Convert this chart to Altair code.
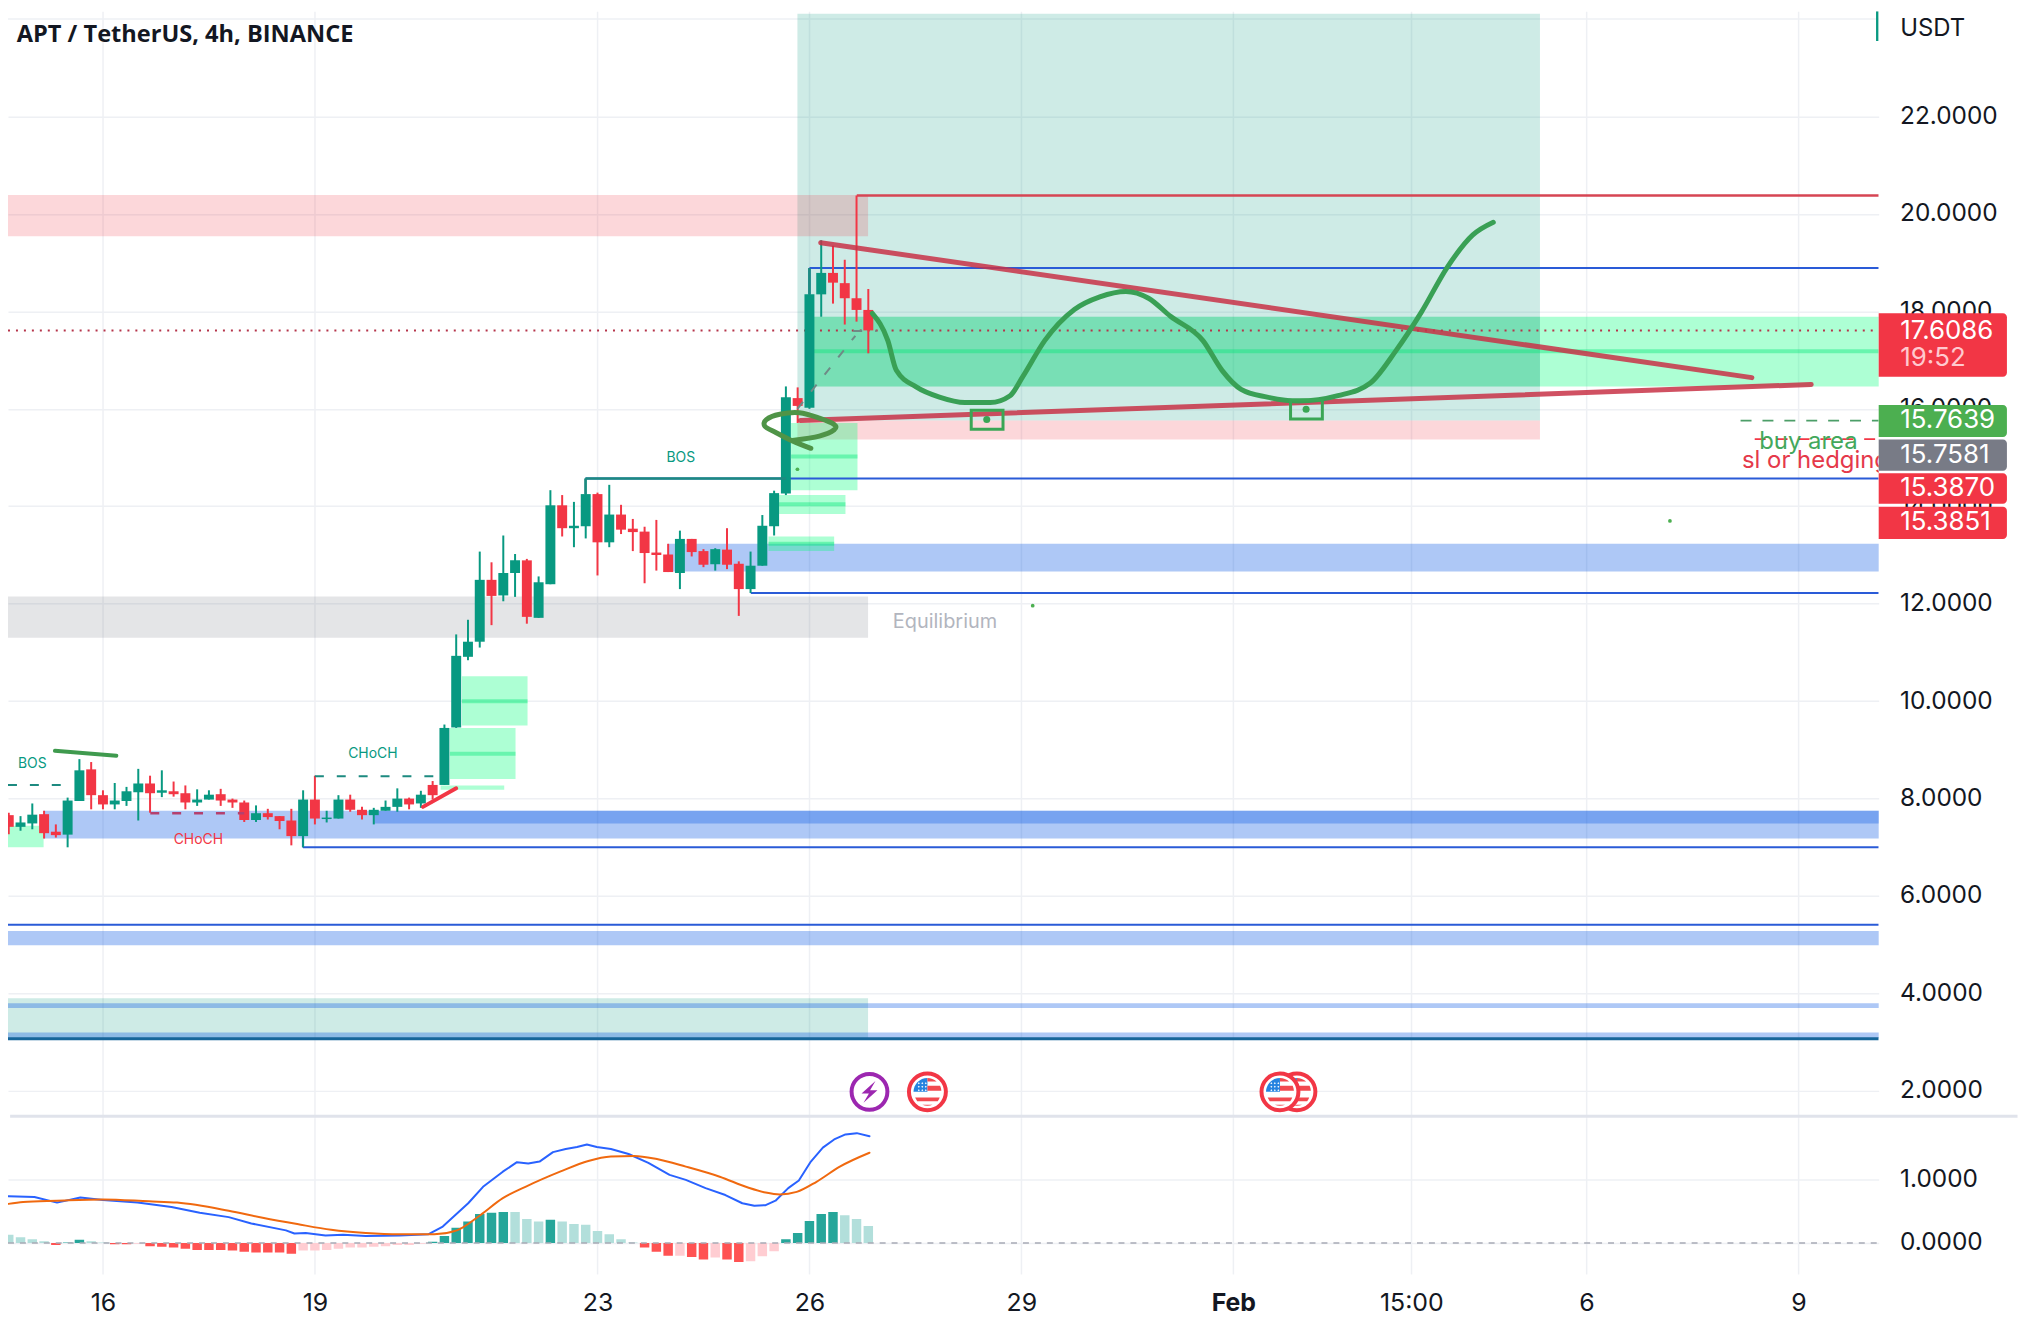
import altair as alt
import pandas as pd

# ---------- chart values ----------
candle_k = list(range(-8, 66))
candle_dir = (
    ["R","G","G","R","R","G","G","R"]
    + ["R","G","G","G","R","G","R","R","G","G","R","R","R","G","R","R","R","G"]
    + ["R","G","G","R","R","G","G","G","R","G","R","G","G"]
    + ["G","G","R","G","G","R","G","G","R","G","G","R","G","R","R","R","R","R","G","R","R","G","R","R","G","G","G"]
    + ["G","R","G","G","R","R","R","R"]
)
candle_high = [7.71,7.64,7.90,7.75,7.47,8.02,8.81,8.75,
    8.17,8.32,8.24,8.61,8.47,8.58,8.35,8.27,8.19,8.17,8.20,8.00,7.96,7.86,7.79,7.64,7.79,8.17,
    8.47,7.75,8.07,8.08,7.83,7.81,7.96,8.21,8.02,8.16,8.36,9.52,11.37,
    11.67,13.07,12.85,13.40,13.02,12.92,12.56,14.33,14.23,14.09,14.57,14.28,14.44,14.03,13.74,13.58,13.72,13.23,13.50,13.33,13.12,13.14,13.55,12.87,13.07,13.82,14.32,
    16.46,16.44,18.88,19.46,19.35,19.06,20.38,18.46]
candle_top = [7.66,7.51,7.67,7.68,7.32,7.96,8.58,8.60,
    8.07,7.96,8.15,8.31,8.31,8.17,8.15,8.11,7.98,8.08,8.09,7.98,7.92,7.70,7.70,7.64,7.55,7.98,
    7.98,7.61,7.98,7.98,7.77,7.77,7.83,8.00,8.00,8.08,8.28,9.45,10.93,
    11.22,12.49,12.49,12.63,12.89,12.89,12.44,14.02,14.02,13.60,14.25,14.25,13.83,13.83,13.54,13.48,13.05,13.01,13.33,13.33,13.08,13.12,13.11,12.82,12.78,13.60,14.27,
    16.24,16.22,18.35,18.79,18.79,18.58,18.27,18.03]
candle_bottom = [7.42,7.42,7.49,7.29,7.25,7.26,7.95,8.07,
    7.88,7.88,7.95,8.13,8.11,8.12,8.09,7.92,7.92,7.98,7.96,7.92,7.56,7.56,7.62,7.54,7.23,7.23,
    7.59,7.58,7.59,7.77,7.66,7.66,7.75,7.83,7.88,7.90,8.07,8.28,9.46,
    10.91,11.22,12.16,12.17,12.63,11.73,11.71,12.40,13.55,13.55,13.59,13.26,13.26,13.52,13.47,13.04,13.00,12.65,12.63,13.06,12.80,12.81,12.80,12.30,12.30,12.78,13.59,
    14.26,16.06,16.02,18.35,18.59,18.27,18.03,17.61]
candle_low = [7.27,7.34,7.37,7.18,7.20,7.00,7.95,7.78,
    7.78,7.78,7.85,7.55,7.71,8.03,8.04,7.78,7.85,7.98,7.85,7.81,7.52,7.52,7.57,7.37,7.04,7.00,
    7.47,7.51,7.59,7.73,7.57,7.47,7.75,7.73,7.78,7.81,7.98,8.28,9.45,
    10.84,11.10,11.56,12.05,12.14,11.59,11.71,12.40,13.38,13.16,13.34,12.58,13.16,13.43,13.08,12.42,12.68,12.65,12.30,12.97,12.75,12.68,12.71,11.75,12.22,12.78,13.40,
    14.23,15.71,16.00,17.89,18.16,17.73,17.79,17.14]

hist_k = list(range(-8, 66))
hist_value = [.13,.09,.06,.03,-.03,.01,.05,.03,
    .01,-.02,-.02,-.01,-.05,-.06,-.07,-.09,-.11,-.11,-.11,-.12,-.14,-.15,-.15,-.15,-.17,
    -.12,-.12,-.11,-.09,-.07,-.07,-.06,-.05,-.03,-.03,-.01,
    .02,.11,.24,.34,.46,.48,.49,.49,.38,.34,.37,.34,.30,.29,.19,.14,.06,.01,
    -.07,-.14,-.20,-.20,-.22,-.26,-.23,-.26,-.30,-.29,-.21,-.13,
    .06,.16,.35,.46,.49,.44,.38,.27]
hist_tone = (
    ["L","L","L","L","R","D","D","L"]
    + ["L","R","R","P","R","R","R","R","R","R","R","R","R","R","R","R","R"]
    + ["P"]*11
    + ["D","D","D","D","D","D","D","L","L","L","D","L","L","L","L","L","L","L"]
    + ["R","R","R","P","R","R","P","R","R","P","P","P"]
    + ["D","D","D","D","D","L","L","L"]
)

macd_day = [14.66,15.03,15.35,15.68,16,16.49,16.97,17.37,17.78,18.10,18.59,18.71,18.87,19.15,19.40,19.72,20.20,20.61,20.81,21.17,21.38,21.66,21.86,22.02,22.18,22.37,22.55,22.71,22.85,22.99,23.19,23.44,23.72,24.02,24.25,24.53,24.81,25.05,25.22,25.38,25.52,25.70,25.85,26.02,26.19,26.35,26.51,26.67,26.85]
macd_val = [.74,.73,.64,.72,.68,.64,.57,.48,.41,.31,.20,.15,.16,.12,.13,.11,.12,.14,.26,.63,.89,1.13,1.28,1.26,1.29,1.44,1.49,1.52,1.56,1.52,1.49,1.41,1.27,1.08,1.00,.87,.76,.63,.59,.60,.67,.87,.99,1.29,1.51,1.64,1.72,1.74,1.69]
signal_day = [14.66,14.87,15.35,16,16.65,17.05,17.78,18.26,18.75,19.23,19.72,20.20,20.69,21.01,21.34,21.66,21.98,22.47,22.87,23.19,23.52,23.84,24.25,24.73,25.13,25.38,25.58,25.82,26.10,26.43,26.85]
signal_val = [.62,.65,.67,.69,.66,.64,.51,.40,.30,.21,.16,.14,.14,.20,.44,.71,.89,1.13,1.30,1.37,1.38,1.33,1.21,1.05,.88,.80,.77,.81,.97,1.21,1.43]

curve_day = [26.89,27.11,27.23,27.51,27.84,28.20,28.56,28.84,29.02,29.33,29.75,30.11,30.48,30.80,31.11,31.57,31.84,32.11,32.48,32.93,33.48,33.94,34.30,34.66,35.03,35.39,35.68]
curve_price = [17.96,17.40,16.79,16.45,16.24,16.13,16.13,16.27,16.66,17.40,18.04,18.30,18.41,18.27,17.90,17.40,16.79,16.40,16.24,16.16,16.27,16.53,17.19,17.98,18.91,19.57,19.83]
loop_day = [26.02,25.76,25.53,25.37,25.39,25.58,25.86,26.14,26.35,26.35,26.14,25.76]
loop_price = [15.19,15.34,15.51,15.64,15.78,15.89,15.92,15.81,15.68,15.57,15.44,15.35]

XL, XR, XTAG, XPAGE = 14.656, 41.135, 42.95, 43.1
YB, YT = 1.449, 24.161

tick_days = [16, 19, 23, 26, 29, 32, 34.52, 37, 40]
tick_names = ["16", "19", "23", "26", "29", "Feb", "15:00", "6", "9"]
price_ticks = [2, 4, 6, 8, 10, 12, 14, 16, 18, 20, 22]

# zones: day from, day to, price from, price to
grey_zones = [(XL, 26.83, 11.30, 12.15)]
red_zones = [(XL, 26.83, 19.54, 20.39), (25.83, 36.34, 15.37, 15.76)]
teal_zones = [(25.83, 36.34, 15.76, 24.11), (XL, 26.83, 3.06, 3.90)]
blue_zones = [(15.16, XR, 7.18, 7.75), (19.84, XR, 7.49, 7.75), (24.0, XR, 12.66, 13.23),
              (XL, XR, 4.99, 5.28), (XL, XR, 3.70, 3.80), (XL, XR, 3.08, 3.20)]
green_zones = [(26.0, XR, 16.46, 17.89), (25.74, 26.68, 14.33, 15.71), (25.57, 26.51, 13.84, 14.23),
               (25.42, 26.35, 13.08, 13.38), (21.08, 22.01, 9.50, 10.51), (20.91, 21.84, 8.40, 9.45),
               (20.78, 21.68, 8.18, 8.27), (XL, 15.16, 7.00, 7.44)]
overlap_zones = [(26.0, 36.34, 16.46, 17.89)]
green_mids = [(26.0, XR, 17.18), (25.74, 26.68, 15.02), (25.57, 26.51, 14.04), (25.42, 26.35, 13.23),
              (21.08, 22.01, 10.0), (20.91, 21.84, 8.92)]

blue_lines = [(26.0, XR, 18.89, 18.89), (26.0, 26.0, 18.89, 18.35), (22.83, XR, 14.57, 14.57),
              (25.17, XR, 12.22, 12.22), (18.83, XR, 7.00, 7.00), (18.83, 18.83, 7.00, 7.23),
              (XL, XR, 5.41, 5.41)]
red_lines = [(26.67, XR, 20.38, 20.38)]
trend_lines = [(26.16, 39.34, 19.41, 16.64), (25.87, 40.18, 15.76, 16.50)]
teal_solid = [(22.83, 25.67, 14.57, 14.57), (22.83, 22.83, 14.57, 14.25), (26.0, 26.0, 18.89, 18.35)]
teal_dash = [(XL, 15.5, 8.28, 8.28), (19.0, 20.83, 8.46, 8.46)]
pink_dash = [(16.67, 18.0, 7.70, 7.70)]
grey_dash = [(25.83, 26.65, 16.0, 17.5), (26.62, 26.95, 17.6, 17.6)]
green_strokes = [(15.32, 16.19, 8.98, 8.88)]
red_strokes = [(20.53, 21.0, 7.83, 8.21)]
buy_dash = [(39.18, XR, 15.76, 15.76)]
sl_dash = [(39.38, XR, 15.38, 15.38)]
dotted = [(XL, XR, 17.61, 17.61)]
bottom_line = [(XL, XR, 3.07, 3.07)]
top_tick = [(XR - 0.02, XR - 0.02, 23.55, YT)]
separator = [(XL + 0.03, XPAGE, YB + 0.03, YB + 0.03)]
grid_top = [(XL, XR, 24.0, 24.0)]
money_boxes = [(28.29, 28.74, 15.58, 15.97), (32.81, 33.26, 15.79, 16.18)]
money_dots_d, money_dots_p = [28.51, 33.03], [15.78, 15.99]
green_dots_d, green_dots_p = [25.83, 29.16, 38.18], [14.76, 11.96, 13.70]

price_tags = [
    (16.66, 17.96, "#f23645"), (15.42, 16.08, "#4caf50"), (14.73, 15.37, "#787b86"),
    (14.05, 14.68, "#f23645"), (13.33, 13.99, "#f23645"),
]
tag_text = ["17.6086", "19:52", "15.7639", "15.7581", "15.3870", "15.3851"]
tag_price = [17.60, 17.04, 15.76, 15.05, 14.37, 13.67]
tag_color = ["#ffffff", "#ffc9cf", "#ffffff", "#ffffff", "#ffffff", "#ffffff"]

SANS = "Inter"
GRID = "#eef0f4"

xs = alt.Scale(domain=[XL, XR], nice=False, zero=False, padding=0)
ys = alt.Scale(domain=[YB, YT], nice=False, zero=False, padding=0)
ms = alt.Scale(domain=[-0.49, 1.984], nice=False, zero=False, padding=0)

name_expr = "{" + ",".join(f"'{d}':'{n}'" for d, n in zip(tick_days, tick_names)) + "}[datum.value]"
top_time_axis = alt.Axis(values=tick_days, grid=True, gridColor=GRID, gridWidth=1.5, labels=False,
                         domain=False, ticks=False, title=None)
low_time_axis = alt.Axis(values=tick_days, labelExpr=name_expr, grid=True, gridColor=GRID, gridWidth=1.5, domain=False,
                         ticks=False, labelPadding=17, labelFontSize=25, labelColor="#131722", labelFont=SANS,
                         title=None, labelOverlap=False, labelFlush=False,
                         labelFontWeight={"condition": {"test": "datum.value == 32", "value": "bold"}, "value": "normal"})
price_axis = alt.Axis(values=price_ticks, orient="right", grid=True, gridColor=GRID, gridWidth=1.5, format=".4f",
                      domain=False, ticks=False, labelPadding=21, labelFontSize=24.5, labelColor="#131722",
                      labelFont=SANS, title=None, labelOverlap=False)
macd_axis = alt.Axis(values=[0, 1], orient="right", format=".4f", grid=True, gridColor=GRID, gridWidth=1.5,
                     domain=False, ticks=False, labelPadding=21, labelFontSize=24.5, labelColor="#131722",
                     labelFont=SANS, title=None)


def X(f="x", axis=top_time_axis):
    return alt.X(f + ":Q", scale=xs, axis=axis)


def Y(f="y", s=ys):
    return alt.Y(f + ":Q", scale=s, axis=macd_axis if s is ms else price_axis)


def zone(rows, color, **kw):
    df = pd.DataFrame(rows, columns=["x", "x2", "y", "y2"])
    return alt.Chart(df).mark_rect(color=color, **kw).encode(X(), x2="x2:Q", y=Y(), y2="y2:Q")


def seg(rows, color, width, dash=None, cap="butt", clip=True):
    df = pd.DataFrame(rows, columns=["x", "x2", "y", "y2"])
    kw = {"strokeDash": dash} if dash else {}
    return alt.Chart(df).mark_rule(color=color, strokeWidth=width, strokeCap=cap, clip=clip, **kw).encode(
        X(), x2="x2:Q", y=Y(), y2="y2:Q")


def label(txt, d, p, color, size, align="center", weight="normal", clip=False, font=SANS):
    df = pd.DataFrame({"x": [d], "y": [p], "t": [txt]})
    return alt.Chart(df).mark_text(color=color, fontSize=size, align=align, baseline="middle",
                                   fontWeight=weight, font=font, clip=clip).encode(X(), Y(), text="t:N")


def curve(ds, ps, color, width, s=ys, interpolate="monotone", axis=top_time_axis):
    df = pd.DataFrame({"x": ds, "y": ps, "o": range(len(ds))})
    return alt.Chart(df).mark_line(color=color, strokeWidth=width, interpolate=interpolate,
                                   strokeCap="round", strokeJoin="round", clip=True).encode(
        X(axis=axis), Y(s=s), order="o:Q")


def icon(d, path, size, fill=None, stroke=None, width=0):
    df = pd.DataFrame({"x": [d], "y": [1.98]})
    kw = {}
    if fill:
        kw["fill"] = fill
    if stroke:
        kw["stroke"] = stroke
        kw["strokeWidth"] = width
    return alt.Chart(df).mark_point(shape=path, size=size, opacity=1, filled=bool(fill), **kw).encode(X(), Y())


DISC = "M -0.9 0 A 0.9 0.9 0 1 1 0.9 0 A 0.9 0.9 0 1 1 -0.9 0 Z"
BOLT = "M 0.3 -0.55 L -0.4 0.08 L -0.03 0.08 L -0.3 0.55 L 0.4 -0.08 L 0.03 -0.08 Z"
CANTON = "M -0.68 0 L 0 0 L 0 -0.68 A 0.68 0.68 0 0 0 -0.68 0 Z"
STRIPES = ("M 0 -0.68 A 0.68 0.68 0 0 1 0.45 -0.51 L 0 -0.51 Z "
           "M 0 -0.3 L 0.62 -0.3 A 0.68 0.68 0 0 1 0.68 -0.05 L 0 -0.05 Z "
           "M -0.6 0.28 L 0.6 0.28 A 0.68 0.68 0 0 1 0.5 0.46 L -0.5 0.46 Z "
           "M -0.25 0.63 L 0.25 0.63 A 0.68 0.68 0 0 1 -0.25 0.63 Z")
STARS = " ".join(f"M {x-0.05} {y} L {x} {y-0.05} L {x+0.05} {y} L {x} {y+0.05} Z"
                 for x in (-0.42, -0.25, -0.08) for y in (-0.42, -0.25, -0.08))


def flag(d):
    return [icon(d, DISC, 1700, fill="#ffffff", stroke="#f23645", width=4),
            icon(d, CANTON, 1700, fill="#2583e0"),
            icon(d, STRIPES, 1700, fill="#f2494f"),
            icon(d, STARS, 1700, fill="#ffffff")]


# ---------- frames ----------
cdf = pd.DataFrame({"k": candle_k, "dir": candle_dir, "hi": candle_high, "top": candle_top,
                    "bot": candle_bottom, "lo": candle_low})
cdf["x"] = 16 + cdf["k"] / 6
cdf["c"] = cdf["dir"].map({"G": "#089981", "R": "#f23645"})

hdf = pd.DataFrame({"k": hist_k, "v": hist_value, "tone": hist_tone})
hdf["x"] = 16 + hdf["k"] / 6
hdf["c"] = hdf["tone"].map({"D": "#26a69a", "L": "#b2dfdb", "R": "#ff5252", "P": "#ffcdd2"})

candle_rule = alt.Chart(cdf).mark_rule(strokeWidth=2, clip=True).encode(
    X(), y=Y("hi"), y2="lo:Q", color=alt.Color("c:N", scale=None))
candle_body = alt.Chart(cdf).mark_bar(size=10, clip=True).encode(
    X(), y=Y("top"), y2="bot:Q", color=alt.Color("c:N", scale=None))

tags = pd.DataFrame(price_tags, columns=["y", "y2", "c"])
tags["x"], tags["x2"] = XR, XTAG
tag_rect = alt.Chart(tags).mark_rect(cornerRadiusTopRight=4, cornerRadiusBottomRight=4).encode(
    X(), x2="x2:Q", y=Y(), y2="y2:Q", color=alt.Color("c:N", scale=None))
tdf = pd.DataFrame({"x": [41.44] * len(tag_text), "y": tag_price, "t": tag_text, "c": tag_color})
tag_label = alt.Chart(tdf).mark_text(fontSize=26, font=SANS, align="left", baseline="middle").encode(
    X(), Y(), text="t:N", color=alt.Color("c:N", scale=None))

dots = pd.DataFrame({"x": green_dots_d, "y": green_dots_p})
dot_layer = alt.Chart(dots).mark_circle(size=14, color="#4caf50", opacity=1).encode(X(), Y())
box_df = pd.DataFrame(money_boxes, columns=["x", "x2", "y", "y2"])
box_layer = alt.Chart(box_df).mark_rect(fillOpacity=0, stroke="#3aa655", strokeWidth=3).encode(
    X(), x2="x2:Q", y=Y(), y2="y2:Q")
mdot_layer = alt.Chart(pd.DataFrame({"x": money_dots_d, "y": money_dots_p})).mark_circle(
    size=50, color="#3aa655", opacity=1).encode(X(), Y())

layers = [seg(grid_top, GRID, 1.5),
          zone(teal_zones, "rgba(8,153,129,0.2)"),
          zone(red_zones, "rgba(242,54,69,0.2)"),
          zone(grey_zones, "rgba(120,123,134,0.2)"),
          zone(blue_zones, "rgba(10,88,228,0.33)"),
          zone(green_zones, "rgba(0,255,120,0.32)"),
          zone(overlap_zones, "rgba(8,120,100,0.15)"),
          ]
mid_df = pd.DataFrame(green_mids, columns=["x", "x2", "y"])
layers.append(alt.Chart(mid_df).mark_rule(color="rgba(0,230,118,0.4)", strokeWidth=4, clip=True).encode(X(), x2="x2:Q", y=Y()))
layers += [
    seg(dotted, "#b5344a", 2, dash=[2, 6]),
    seg(blue_lines, "#2a5bd7", 2),
    seg(bottom_line, "#17669a", 3),
    seg(red_lines, "#d64553", 2.5),
    candle_rule, candle_body,
    seg(teal_solid, "#1d8a80", 2.5),
    seg(teal_dash, "#1d8a80", 2, dash=[9, 13]),
    seg(pink_dash, "#b4406f", 2.5, dash=[9, 13]),
    seg(grey_dash, "#6f8a86", 2, dash=[9, 13]),
    seg(buy_dash, "#4c9e68", 1.8, dash=[11, 11]),
    seg(sl_dash, "#f23645", 1.8, dash=[11, 11]),
    seg(trend_lines, "rgba(200,50,70,0.85)", 5, cap="round"),
    seg(red_strokes, "#f23645", 4, cap="round"),
    seg(green_strokes, "#3f9a4e", 4, cap="round"),
    curve(curve_day, curve_price, "#39a055", 5),
    curve(loop_day, loop_price, "#4f9447", 5, interpolate="cardinal"),
    box_layer, mdot_layer, dot_layer,
    label("BOS", 15.0, 8.71, "#089981", 14),
    label("CHoCH", 19.82, 8.92, "#089981", 14),
    label("BOS", 24.18, 15.0, "#089981", 14),
    label("CHoCH", 17.35, 7.15, "#f23645", 14),
    label("Equilibrium", 27.18, 11.62, "#b2b5be", 20, align="left"),
    label("buy area", 40.14, 15.32, "#43a85c", 24),
    label("sl or hedging", 39.2, 14.92, "#e5394a", 24, align="left", clip=True),
    label("APT / TetherUS, 4h, BINANCE", 14.78, 23.67, "#131722", 23.7, align="left", weight="bold", font="Open Sans"),
    icon(26.85, DISC, 1600, fill="#ffffff", stroke="#9c27b0", width=4),
    icon(26.85, BOLT, 1600, fill="#9c27b0"),
    *flag(27.67), *flag(32.90), *flag(32.66),
    seg(separator, "#e0e3eb", 3, clip=False),
    seg(top_tick, "#089981", 2.5),
    tag_rect, tag_label,
    label("USDT", 41.44, 23.79, "#131722", 24, align="left"),
]
top = alt.layer(*layers).properties(width=1880, height=1112)

# ---------- lower panel ----------
zero_df = pd.DataFrame({"x": [XL], "x2": [XR], "y": [0]})
zero_line = alt.Chart(zero_df).mark_rule(color="#a8abb5", strokeWidth=1.5, strokeDash=[6, 6], clip=True).encode(
    X(axis=low_time_axis), x2="x2:Q", y=Y(s=ms))
hist = alt.Chart(hdf).mark_bar(size=9.5, clip=True).encode(
    X(axis=low_time_axis), y=Y("v", s=ms), y2=alt.datum(0), color=alt.Color("c:N", scale=None))
low = alt.layer(hist, zero_line,
                curve(macd_day, macd_val, "#2962ff", 2, s=ms, interpolate="linear", axis=low_time_axis),
                curve(signal_day, signal_val, "#f0690f", 2, s=ms, axis=low_time_axis),
                ).properties(width=1880, height=157)

chart = alt.vconcat(top, low, spacing=0, bounds="flush").properties(
    padding=0, background="white").configure_view(stroke=None)
chart.save("out.html", embed_options={"renderer": "svg", "actions": False})
